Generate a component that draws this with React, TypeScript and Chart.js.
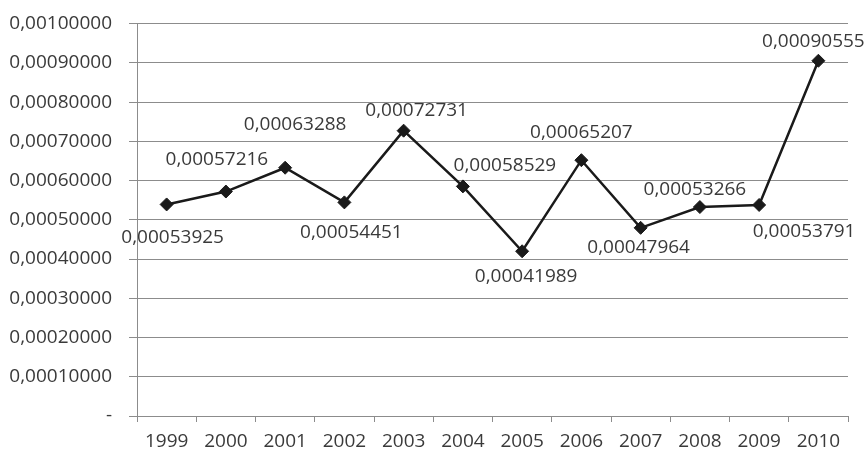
import React, { useEffect, useRef } from 'react';
import { Chart, registerables } from 'chart.js';

Chart.register(...registerables);

const years = ['1999', '2000', '2001', '2002', '2003', '2004', '2005', '2006', '2007', '2008', '2009', '2010'];
const values = [
  0.00053925, 0.00057216, 0.00063288, 0.00054451, 0.00072731, 0.00058529,
  0.00041989, 0.00065207, 0.00047964, 0.00053266, 0.00053791, 0.00090555,
];
// pixel offsets of each value label from its point (dx, dy)
const labelOffsets: [number, number][] = [
  [6, 33], [-9, -32], [10, -43], [7, 30], [13, -20], [42, -21],
  [4, 25], [0, -28], [-2, 20], [-5, -17], [45, 27], [-5, -19],
];

const FONT_FAMILY = '"Open Sans", "Noto Sans", sans-serif';
const FONT_SIZE = 19;
const TEXT = '#3a3a3a';
const GRID = '#8c8c8c';
const LINE = '#1a1a1a';

const fmt = (v: number) => (v === 0 ? '-' : v.toFixed(8).replace('.', ','));

const dataLabelPlugin = {
  id: 'dataLabels',
  afterDatasetsDraw(chart: any) {
    const ctx = chart.ctx;
    const meta = chart.getDatasetMeta(0);
    ctx.save();
    ctx.font = `${FONT_SIZE}px ${FONT_FAMILY}`;
    ctx.fillStyle = TEXT;
    ctx.textAlign = 'center';
    ctx.textBaseline = 'middle';
    meta.data.forEach((pt: any, i: number) => {
      const [dx, dy] = labelOffsets[i];
      ctx.fillText(fmt(values[i]), pt.x + dx, pt.y + dy);
    });
    ctx.restore();
  },
};

export default function App() {
  const ref = useRef<HTMLCanvasElement>(null);

  useEffect(() => {
    if (!ref.current) return;
    const font = { family: FONT_FAMILY, size: FONT_SIZE };
    const chart = new Chart(ref.current, {
      type: 'line',
      data: {
        labels: years,
        datasets: [
          {
            data: values,
            borderColor: LINE,
            borderWidth: 2.5,
            backgroundColor: LINE,
            pointStyle: 'rectRot',
            pointRadius: 6.5,
            pointBorderWidth: 1,
            pointBackgroundColor: LINE,
            pointBorderColor: LINE,
            tension: 0,
            fill: false,
          },
        ],
      },
      options: {
        animation: false,
        responsive: true,
        maintainAspectRatio: false,
        layout: { padding: { top: 23.7, right: 19, left: 0, bottom: 0 } },
        plugins: {
          legend: { display: false },
          tooltip: { enabled: false },
        },
        scales: {
          x: {
            type: 'category',
            offset: true,
            grid: {
              offset: true,
              drawOnChartArea: false,
              drawTicks: true,
              tickLength: 6,
              color: GRID,
            },
            border: { display: true, color: GRID },
            ticks: { font, color: TEXT, padding: 8, maxRotation: 0, autoSkip: false },
            afterFit: (s: any) => {
              s.height = 35;
            },
          },
          y: {
            min: 0,
            max: 0.001,
            ticks: {
              stepSize: 0.0001,
              font,
              color: TEXT,
              padding: 17,
              callback: (v: any) => fmt(Number(v)),
            },
            grid: { color: GRID, tickLength: 8, drawTicks: true },
            border: { display: true, color: GRID },
            afterFit: (s: any) => {
              s.width = 137;
              s.paddingTop = 0;
              s.paddingBottom = 0;
            },
          },
        },
      },
      plugins: [dataLabelPlugin],
    });
    return () => chart.destroy();
  }, []);

  return (
    <div style={{ position: 'fixed', left: 0, top: 0, width: 867, height: 451, background: '#fff' }}>
      <canvas ref={ref} />
    </div>
  );
}
